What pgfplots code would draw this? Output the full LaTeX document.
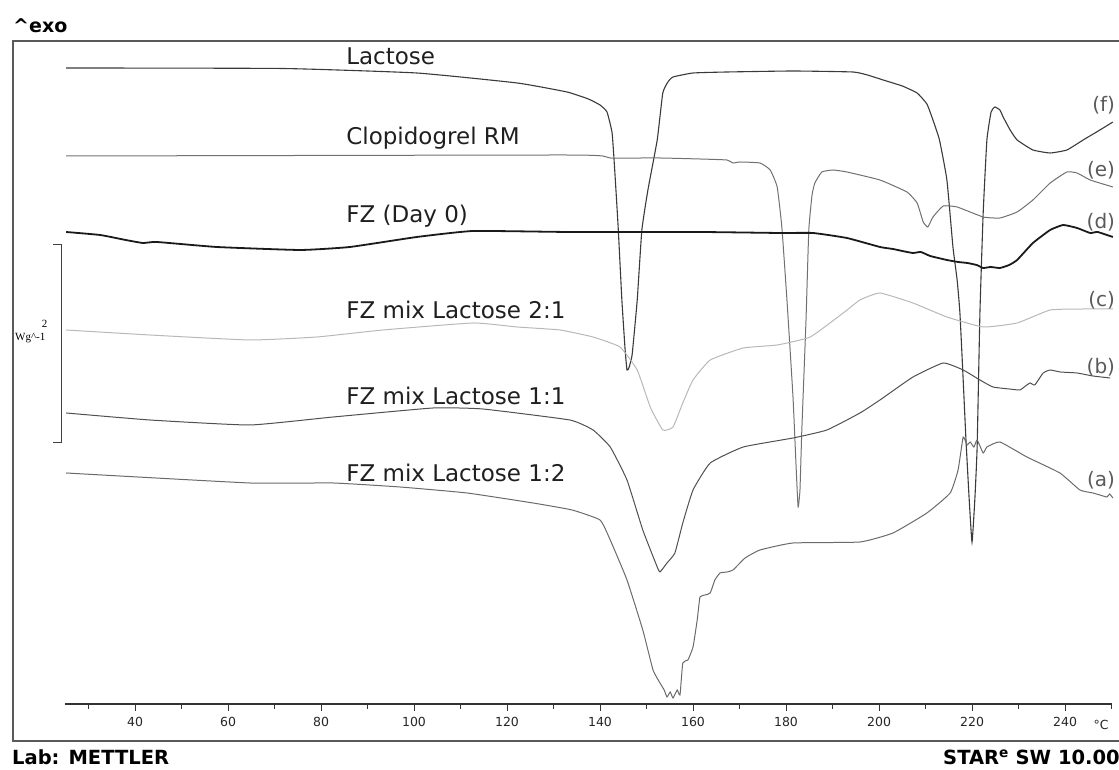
\documentclass[border=0pt]{standalone}
\usepackage{pgfplots}
\pgfplotsset{compat=1.18}
\usepackage{fontspec}
\setmainfont{DejaVu Sans}
\newfontfamily\serifsmall{Liberation Serif}
\definecolor{cf}{HTML}{3A3A3A}
\definecolor{ce}{HTML}{707070}
\definecolor{cd}{HTML}{1A1A1A}
\definecolor{cc}{HTML}{B8B8B8}
\definecolor{cb}{HTML}{505050}
\definecolor{ca}{HTML}{6A6A6A}
\definecolor{lab}{HTML}{5A5A5A}
\definecolor{frame}{HTML}{5A5A5A}
\begin{document}
\begin{tikzpicture}
\useasboundingbox (0,0) rectangle (1119pt,770pt);
% main frame axis: x in degC, y in arbitrary heat-flow units (1 unit = 1 px)
\begin{axis}[
  at={(13pt,29pt)}, anchor=south west,
  scale only axis, width=1112pt, height=700pt,
  xmin=13.76, xmax=252.9, ymin=29, ymax=729,
  xtick=\empty, ytick=\empty,
  axis line style={frame, line width=1.3pt},
  clip=false,
  every axis plot/.append style={smooth, tension=0.25},
]
% (f) Lactose
\addplot[cf, line width=1.1pt] coordinates {
(25.2,702) (71.8,701.5) (100.6,697) (122.2,687) (132.9,678) (137.5,671) (140.0,665) (141.5,658)
(142.6,637) (143.2,597) (143.9,543) (144.7,470) (145.4,420) (145.8,400) (146.2,402)
(146.9,415) (148.0,470) (149.0,540) (150.3,580) (152.3,630) (153.5,677) (154.6,688)
(155.7,693) (160.0,697) (167.3,698) (181.5,699) (194.4,698) (197.5,695) (200.9,690) (205.0,684) (208.2,677)
(210.3,666) (211.6,650) (213.0,630) (214.6,590) (215.9,523) (216.8,490) (217.4,457) (218.1,390)
(218.7,330) (219.4,270) (220.0,228) (220.6,270) (221.1,323) (221.7,457) (222.4,557)
(223.2,630) (224.1,658) (224.9,663) (226.0,660) (226.7,653) (228.2,640) (229.7,630)
(233.1,620) (236.8,617) (240.4,620) (243.9,630) (247.5,640) (250.3,648)
};
% (e) Clopidogrel RM
\addplot[ce, line width=1.0pt] coordinates {
(25.2,614) (131.4,615) (140.6,614) (142.2,612) (152.9,612) (161.5,611) (167.3,610)
(168.6,607) (170.1,608) (174.4,607) (176.6,600) (178.1,583) (179.1,543) (180.2,470)
(181.5,373) (182.2,300) (182.6,263) (183.0,280) (183.4,340) (184.3,450) (184.9,540)
(185.6,575) (186.2,587) (187.7,598) (190.1,600) (193.1,598) (200.2,590) (206.0,578)
(208.2,567) (209.5,548) (210.5,543) (211.6,553) (213.8,564) (216.8,563) (222.4,553)
(226.0,552) (229.7,558) (233.1,570) (236.8,587) (240.4,598) (242.6,597) (245.4,590)
(250.3,583)
};
% (d) FZ (Day 0)
\addplot[cd, line width=1.8pt] coordinates {
(25.2,538) (32.5,535) (38.0,530) (41.7,527) (44.7,528) (57.6,523) (75.5,520) (86.2,523)
(100.6,533) (112.7,539) (133.5,538) (161.5,538) (178.7,537) (185.8,537) (193.1,532)
(200.2,523) (203.0,521) (205.0,519) (207.3,517) (209.0,518) (211.0,514) (214.6,510)
(217.0,508) (219.0,507) (221.0,505) (222.4,502) (224.0,503) (226.0,502) (228.0,505)
(229.7,510) (233.1,527) (236.8,540) (239.6,545) (242.6,542) (245.4,537) (247.0,538)
(250.3,533)
};
% (c) FZ mix Lactose 2:1
\addplot[cc, line width=1.0pt] coordinates {
(25.2,440) (43.2,435) (64.7,430) (79.1,433) (93.3,440) (112.7,447) (122.2,443)
(131.4,440) (138.5,433) (144.3,423) (148.0,400) (150.8,363) (153.5,340) (155.7,343)
(157.8,367) (160.0,390) (163.7,410) (170.8,422) (178.1,425) (185.2,433) (192.3,457)
(195.9,470) (200.2,477) (207.3,467) (214.6,453) (222.4,443) (229.7,447) (236.8,460)
(243.9,461) (250.3,461)
};
% (b) FZ mix Lactose 1:1
\addplot[cb, line width=1.0pt] coordinates {
(25.2,357) (43.2,350) (64.7,345) (82.6,353) (104.1,362) (114.8,361) (133.5,350)
(138.5,340) (142.2,323) (145.8,290) (149.2,240) (152.3,203) (152.9,198) (154.4,207)
(156.1,217) (157.8,247) (160.0,280) (163.7,307) (170.8,323) (181.5,332) (188.8,340)
(195.9,357) (200.2,370) (207.3,393) (213.8,407) (218.1,400) (221.7,390) (224.5,383)
(228.0,381) (230.3,380) (231.5,384) (232.5,387) (233.5,385) (235.3,397) (236.8,400)
(239.0,398) (242.6,397) (246.0,394) (249.7,392)
};
% (a) FZ mix Lactose 1:2
\addplot[ca, line width=1.0pt] coordinates {
(25.2,297) (64.7,287) (82.6,287) (97.0,283) (111.4,277) (125.6,267) (134.0,260) (140.0,250)
(142.2,230) (145.8,190) (149.2,140) (151.4,100) (152.9,87) (153.8,80) (154.4,73)
(155.1,78) (155.7,72) (156.6,80) (157.2,75) (157.8,107) (158.9,110) (160.0,123)
(160.9,150) (161.5,173) (162.6,175) (163.7,177) (164.7,190) (165.8,197) (167.3,198)
(168.6,200) (171.2,212) (174.4,220) (181.5,227) (195.9,228) (203.0,237) (210.3,257)
(215.3,277) (217.0,300) (218.1,333) (218.9,325) (219.6,328) (220.4,323) (221.1,330)
(222.4,317) (223.2,323) (226.0,328) (231.8,313) (238.9,297) (243.2,280) (246.0,277)
(247.5,275) (249.0,273) (249.6,276) (250.3,272)
};
% curve names
\begin{scope}[every node/.style={anchor=west, font=\fontsize{23}{26}\selectfont, text=black!88, inner sep=0pt}]
\node at (axis cs:85.4,714) {Lactose};
\node at (axis cs:85.4,632) {Clopidogrel RM};
\node at (axis cs:85.4,554) {FZ (Day 0)};
\node at (axis cs:85.4,460) {FZ mix Lactose 2:1};
\node at (axis cs:85.4,374) {FZ mix Lactose 1:1};
\node at (axis cs:85.4,297) {FZ mix Lactose 1:2};
\end{scope}
\begin{scope}[every node/.style={anchor=east, font=\fontsize{20}{24}\selectfont, text=lab, inner sep=0pt}]
\node at (axis cs:250.8,665) {(f)};
\node at (axis cs:250.8,600) {(e)};
\node at (axis cs:250.8,548) {(d)};
\node at (axis cs:250.8,470) {(c)};
\node at (axis cs:250.8,403) {(b)};
\node at (axis cs:250.8,290) {(a)};
\end{scope}
\end{axis}
% temperature axis inside the frame
\begin{axis}[
  at={(65.25pt,66pt)}, anchor=south west,
  scale only axis, width=1046.25pt, height=1pt,
  xmin=25, xmax=250, ymin=0, ymax=1,
  axis x line=bottom, axis y line=none,
  axis line style={-, black!80, line width=1.1pt},
  xtick={40,60,...,240}, minor xtick={30,50,...,250},
  tick align=outside, major tick length=7pt, minor tick length=5pt,
  tick style={black!80, line width=1pt},
  xticklabel style={font=\fontsize{12.5}{14}\selectfont, text=black!85, yshift=-3pt},
  /pgf/number format/assume math mode=true,
]
\addplot[draw=none] coordinates {(25,0) (250,0)};
\end{axis}
\node[anchor=base west, font=\fontsize{12.5}{14}\selectfont, text=black!85] at (1090pt,40pt) {°C};
% heat-flow scale bar
\draw[black!75, line width=1pt] (53pt,525pt) -- (61pt,525pt) -- (61pt,327pt) -- (53pt,327pt);
\node[anchor=base east, font=\serifsmall\fontsize{11}{12}\selectfont] at (51pt,442pt) {2};
\node[anchor=base west, font=\serifsmall\fontsize{11}{12}\selectfont, inner sep=0pt] at (15pt,429pt) {Wg\^{}-1};
% header / footer text
\node[anchor=base west, font=\bfseries\fontsize{19}{22}\selectfont, inner sep=0pt] at (13pt,737pt) {\^{}exo};
\node[anchor=base west, font=\bfseries\fontsize{19.5}{22}\selectfont, inner sep=0pt] at (12pt,5pt) {Lab: METTLER};
\node[anchor=base west, font=\bfseries\fontsize{19.5}{22}\selectfont, inner sep=0pt] at (943pt,5pt) {STAR\textsuperscript{e} SW 10.00};
\end{tikzpicture}
\end{document}
